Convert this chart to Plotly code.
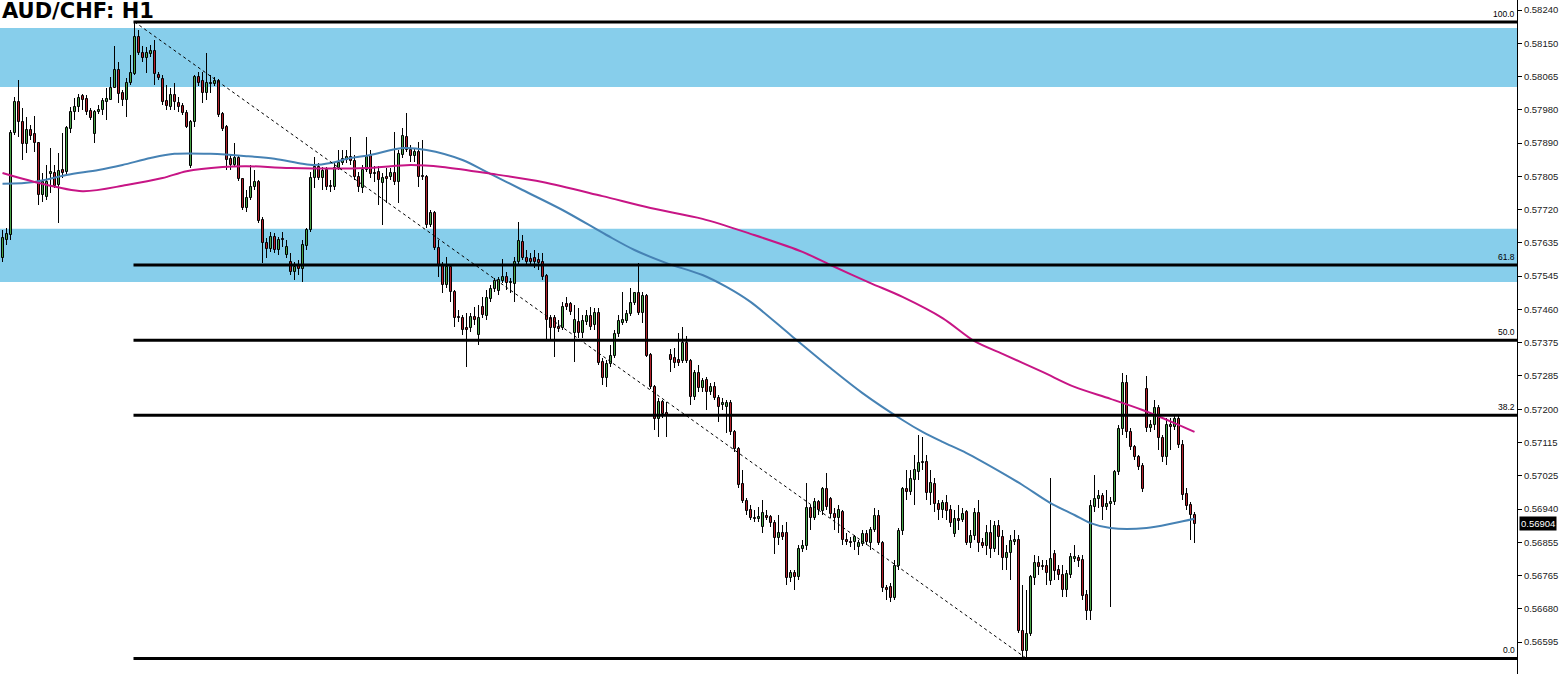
import numpy as np
import plotly.graph_objects as go

TITLE = "AUD/CHF: H1"

# ---- OHLC data (prices in points, 1 point = 0.00001) ----
open_pts = [
57595,57642,57655,57920,58001,57949,57892,57928,57918,57894,
57759,57754,57814,57816,57785,57824,57819,57931,57975,57988,
58016,58009,57977,57918,57975,57980,58001,58006,58037,58084,
58024,58006,58050,58074,58170,58128,58115,58126,58133,58071,
58061,58003,57988,58019,57998,57990,57972,57834,57949,58066,
58055,58024,58050,58048,58055,57970,57936,57853,57837,57855,
57801,57725,57751,57780,57793,57694,57634,57619,57650,57616,
57645,57603,57585,57559,57574,57567,57626,57668,57803,57832,
57803,57824,57782,57780,57829,57842,57850,57858,57847,57806,
57777,57824,57860,57816,57819,57790,57806,57806,57816,57793,
57863,57910,57876,57860,57871,57808,57806,57681,57712,57621,
57577,57525,57572,57507,57442,57439,57413,57413,57442,57395,
57468,57444,57489,57515,57509,57535,57546,57530,57528,57585,
57637,57595,57593,57595,57590,57585,57548,57439,57439,57416,
57413,57476,57476,57400,57429,57400,57429,57444,57421,57452,
57325,57283,57320,57340,57398,57426,57431,57450,57478,57504,
57452,57496,57343,57260,57177,57221,57192,57343,57335,57330,
57327,57374,57327,57234,57296,57257,57278,57247,57260,57231,
57213,57208,57218,57143,57099,57008,56963,56940,56919,56917,
56896,56924,56922,56906,56867,56880,56880,56763,56776,56766,
56839,56846,56945,56919,56961,56937,56995,56969,56930,56919,
56935,56862,56857,56857,56844,56852,56878,56854,56888,56924,
56854,56737,56740,56711,56794,56885,56995,56987,57018,57039,
57065,57065,56984,57008,56956,56940,56958,56940,56878,56917,
56914,56935,56854,56872,56932,56854,56846,56880,56839,56898,
56870,56815,56828,56857,56862,56625,56573,56618,56763,56802,
56794,56794,56755,56826,56784,56771,56732,56771,56813,56815,
56810,56719,56677,56948,56969,56976,56948,56956,56961,57039,
57151,57270,57143,57104,57078,57054,57255,57153,57161,57205,
57127,57078,57161,57156,57177,57109,56982,56953,56927]

high_pts = [
57668,57673,57928,58014,58058,57985,57962,57941,57964,57897,
57816,57837,57881,57837,57868,57920,57938,57988,58011,58022,
58022,58019,57985,57980,57993,58011,58037,58066,58146,58105,
58032,58063,58123,58209,58188,58146,58144,58149,58162,58079,
58071,58045,58037,58050,58014,57998,57980,57954,58071,58079,
58079,58128,58071,58066,58061,57975,57941,57863,57894,57863,
57803,57772,57837,57824,57798,57702,57647,57663,57660,57650,
57663,57642,57608,57585,57590,57642,57673,57819,57858,57842,
57832,57832,57798,57845,57876,57876,57876,57910,57863,57819,
57837,57910,57876,57834,57834,57816,57829,57829,57923,57876,
57933,57972,57889,57881,57897,57902,57811,57720,57717,57642,
57585,57598,57580,57512,57460,57447,57452,57452,57468,57473,
57494,57512,57525,57543,57546,57593,57559,57543,57598,57689,
57655,57616,57608,57616,57608,57608,57554,57447,57447,57434,
57481,57494,57481,57473,57465,57447,57460,57468,57465,57465,
57335,57330,57369,57408,57447,57507,57460,57517,57507,57582,
57507,57502,57348,57265,57231,57226,57221,57359,57361,57400,
57416,57392,57333,57304,57317,57283,57286,57270,57273,57239,
57231,57226,57226,57148,57104,57044,56971,56953,56940,56948,
56966,56940,56927,56914,56927,56901,56909,56784,56784,56849,
56862,57010,56953,56971,56966,57000,57036,56974,56945,56953,
56940,56880,56870,56875,56862,56888,56888,56896,56945,56940,
56859,56745,56750,56810,56893,57000,57044,57044,57083,57135,
57130,57083,57044,57023,56966,56966,56979,56953,56940,56953,
56945,56940,56888,56945,56966,56867,56901,56914,56911,56914,
56888,56849,56875,56888,56875,56745,56732,56771,56823,56820,
56810,56810,57023,56836,56797,56797,56784,56828,56849,56823,
56823,56732,56966,57031,56992,56984,56992,56974,57044,57161,
57296,57291,57153,57109,57083,57062,57288,57174,57226,57213,
57135,57179,57179,57187,57187,57122,56997,56961,56935]

low_pts = [
57585,57629,57642,57915,57910,57850,57868,57902,57871,57733,
57741,57746,57764,57777,57686,57803,57814,57920,57954,57975,
57980,57967,57954,57894,57970,57967,57954,58006,58037,57998,
57990,57962,58045,58071,58123,58105,58076,58118,58045,58058,
57993,57980,57980,57980,57975,57967,57933,57829,57936,58042,
57998,58006,58024,58042,57962,57925,57824,57824,57832,57795,
57720,57715,57746,57772,57686,57582,57595,57611,57608,57603,
57624,57595,57551,57538,57551,57533,57616,57663,57777,57798,
57772,57772,57767,57772,57824,57837,57842,57837,57798,57767,
57764,57819,57803,57793,57733,57681,57738,57798,57785,57738,
57855,57871,57845,57845,57780,57798,57673,57676,57616,57546,
57504,57517,57481,57416,57429,57395,57312,57403,57421,57369,
57439,57434,57481,57507,57499,57530,57512,57504,57481,57580,
57590,57577,57577,57569,57564,57538,57382,57382,57338,57403,
57408,57460,57447,57325,57387,57387,57421,57408,57408,57317,
57265,57260,57312,57335,57390,57421,57426,57444,57473,57447,
57426,57338,57255,57148,57130,57179,57130,57299,57309,57314,
57322,57322,57213,57226,57247,57247,57200,57239,57226,57169,
57200,57140,57135,57091,56997,56958,56927,56914,56909,56909,
56880,56914,56896,56826,56849,56862,56745,56753,56732,56758,
56831,56836,56888,56914,56927,56927,56940,56919,56888,56880,
56849,56849,56844,56836,56823,56846,56849,56836,56883,56849,
56727,56706,56701,56706,56784,56875,56966,56979,56953,57018,
57044,56966,56953,56935,56914,56919,56914,56896,56870,56888,
56909,56849,56841,56862,56831,56841,56823,56815,56831,56823,
56784,56784,56758,56849,56620,56555,56554,56612,56745,56771,
56784,56745,56745,56758,56758,56714,56714,56763,56805,56792,
56706,56654,56654,56935,56945,56914,56940,56688,56953,57031,
57135,57127,57096,57070,57044,56987,57143,57143,57148,57096,
57065,57057,57096,57148,57101,56966,56940,56862,56854]

close_pts = [
57647,57658,57920,58001,57949,57892,57928,57912,57894,57759,
57793,57793,57819,57782,57821,57816,57933,57975,57988,58011,
58006,57975,57959,57975,57980,58003,58009,58037,58084,58022,
58006,58050,58076,58170,58128,58115,58128,58133,58074,58063,
58001,57990,58019,58001,57988,57972,57936,57949,58066,58050,
58024,58050,58048,58055,57967,57931,57850,57837,57855,57801,
57725,57751,57780,57793,57691,57634,57619,57650,57616,57642,
57642,57624,57559,57572,57567,57629,57668,57803,57832,57803,
57821,57780,57780,57829,57842,57853,57858,57847,57806,57780,
57824,57858,57814,57814,57798,57803,57801,57816,57793,57866,
57912,57876,57860,57871,57806,57806,57681,57712,57621,57577,
57525,57572,57507,57439,57439,57408,57408,57442,57434,57439,
57447,57491,57515,57535,57538,57546,57530,57533,57585,57639,
57595,57585,57585,57585,57582,57546,57434,57413,57413,57411,
57468,57468,57455,57434,57400,57431,57444,57416,57452,57322,
57283,57320,57340,57398,57431,57434,57450,57478,57504,57452,
57496,57340,57260,57177,57221,57190,57184,57330,57322,57322,
57374,57327,57234,57296,57257,57275,57247,57260,57231,57208,
57218,57218,57143,57099,57005,56963,56937,56919,56917,56922,
56932,56919,56906,56867,56880,56870,56763,56776,56766,56839,
56846,56945,56919,56961,56940,56995,56948,56930,56919,56940,
56862,56857,56854,56870,56854,56878,56857,56888,56924,56854,
56737,56732,56711,56794,56885,56995,56987,57021,57044,57062,
57062,56984,57010,56956,56940,56958,56937,56906,56917,56911,
56930,56854,56872,56932,56854,56846,56880,56839,56898,56870,
56815,56828,56859,56862,56625,56573,56618,56766,56802,56792,
56792,56776,56813,56781,56771,56732,56774,56818,56818,56807,
56716,56677,56950,56969,56976,56948,56956,56961,57039,57151,
57270,57143,57104,57078,57052,56995,57153,57161,57205,57127,
57078,57161,57156,57177,57109,56979,56950,56927,56904]

# ---- moving averages, sampled (bar index, value in points) ----
ma_blue_idx = [0, 8, 16, 24, 30, 37, 43, 52, 61, 68, 75, 78, 82, 87, 92, 100, 106,
               115, 121, 130, 140, 151, 158, 166, 175, 181, 187, 197, 207, 215, 225,
               230, 235, 241, 250, 255, 262, 268, 272, 277, 286, 293, 298]
ma_blue_pts = [57788, 57793, 57811, 57824, 57837, 57855, 57866, 57866, 57860, 57853,
               57840, 57837, 57842, 57855, 57863, 57881, 57876, 57850, 57819, 57772,
               57720, 57655, 57616, 57582, 57551, 57520, 57481, 57395, 57309, 57244,
               57174, 57143, 57117, 57088, 57036, 57005, 56958, 56927, 56906, 56893,
               56893, 56906, 56917]
ma_mag_idx = [0, 8, 20, 31, 40, 46, 55, 61, 72, 91, 102, 110, 121, 135, 150, 162,
              175, 187, 200, 207, 217, 225, 235, 243, 250, 260, 268, 277, 285, 293, 298]
ma_mag_pts = [57816, 57793, 57769, 57785, 57803, 57821, 57832, 57834, 57829, 57829,
              57837, 57832, 57816, 57793, 57756, 57725, 57697, 57658, 57611, 57577,
              57530, 57494, 57439, 57379, 57346, 57299, 57260, 57229, 57200, 57166,
              57143]

# ---- zones (price ranges) ----
zone_top = [0.58193, 0.57671]
zone_bottom = [0.58040, 0.57533]

# ---- fibonacci levels ----
fib_levels = [100.0, 61.8, 50.0, 38.2, 0.0]
fib_labels = ["100.0", "61.8", "50.0", "38.2", "0.0"]

# ---- axis ticks ----
ytick_labels = ["0.58240", "0.58150", "0.58065", "0.57980", "0.57890", "0.57805",
                "0.57720", "0.57635", "0.57545", "0.57460", "0.57375", "0.57285",
                "0.57200", "0.57115", "0.57025", "0.56940", "0.56855", "0.56765",
                "0.56680", "0.56595", "0.56510"]

SCALE = 1e5
o = np.array(open_pts) / SCALE
h = np.array(high_pts) / SCALE
l = np.array(low_pts) / SCALE
c = np.array(close_pts) / SCALE
n = len(c)
idx = np.arange(n)

W, H = 1561, 674
PLOT_RIGHT = 1517
BAR_PX = 4.0
x_lo = -2.5 / BAR_PX
x_hi = x_lo + PLOT_RIGHT / BAR_PX
y_lo, y_hi = 0.565136, 0.58266

GREEN = "#47A447"
RED = "#B2202A"

fig = go.Figure()

# wicks (bars, so they sit under the bodies)
fig.add_trace(go.Bar(x=idx, y=h - l, base=l, width=1.0 / BAR_PX,
                     marker=dict(color="black", line=dict(width=0)),
                     hoverinfo="skip", showlegend=False))

# bodies
inc = c >= o
bottom = np.minimum(o, c)
height = np.maximum(np.abs(c - o), 0.000012)
for mask, col in ((inc, GREEN), (~inc, RED)):
    fig.add_trace(go.Bar(x=idx[mask], y=height[mask], base=bottom[mask], width=2.0 / BAR_PX,
                         marker=dict(color=col, line=dict(color="black", width=1)),
                         hoverinfo="skip", showlegend=False))

# moving averages
fig.add_trace(go.Scatter(x=ma_blue_idx, y=np.array(ma_blue_pts) / SCALE, mode="lines",
                         line=dict(color="#4682B4", width=2, shape="spline", smoothing=0.9),
                         hoverinfo="skip", showlegend=False))
fig.add_trace(go.Scatter(x=ma_mag_idx, y=np.array(ma_mag_pts) / SCALE, mode="lines",
                         line=dict(color="#C71585", width=2, shape="spline", smoothing=0.9),
                         hoverinfo="skip", showlegend=False))

shapes = []
for zt, zb in zip(zone_top, zone_bottom):
    shapes.append(dict(type="rect", xref="paper", yref="y", x0=0, x1=1, y0=zb, y1=zt,
                       fillcolor="#87CEEB", line=dict(width=0), layer="below"))

i_hi = int(np.argmax(h))
i_lo = int(np.argmin(l))
fib_hi, fib_lo = h[i_hi], l[i_lo]
annotations = []
for lev, lab in zip(fib_levels, fib_labels):
    price = fib_lo + (fib_hi - fib_lo) * lev / 100.0
    shapes.append(dict(type="line", xref="x", yref="y", x0=i_hi - 0.25, x1=x_hi,
                       y0=price, y1=price, line=dict(color="black", width=3)))
    annotations.append(dict(x=1, xref="paper", y=price, yref="y", text=lab,
                            xanchor="right", yanchor="bottom", yshift=1, showarrow=False,
                            font=dict(family="Liberation Sans", size=8.5, color="black")))

shapes.append(dict(type="line", xref="x", yref="y", x0=i_hi, y0=fib_hi, x1=i_lo, y1=fib_lo,
                   line=dict(color="black", width=1, dash="dot")))

annotations.append(dict(x=0, xref="paper", y=1, yref="paper", text="<b>" + TITLE + "</b>",
                        xanchor="left", yanchor="top", showarrow=False, yshift=3,
                        font=dict(family="DejaVu Sans", size=21, color="black")))
annotations.append(dict(x=1, xref="paper", y=c[-1], yref="y", text="%.5f" % c[-1],
                        xanchor="left", yanchor="middle", xshift=2, showarrow=False,
                        bgcolor="black", borderpad=1,
                        font=dict(family="Liberation Sans", size=9.5, color="white")))

fig.update_layout(
    width=W, height=H,
    margin=dict(l=0, r=W - PLOT_RIGHT, t=0, b=0, autoexpand=False),
    paper_bgcolor="white", plot_bgcolor="white",
    barmode="overlay", bargap=0, bargroupgap=0,
    shapes=shapes, annotations=annotations,
    showlegend=False, hovermode=False,
    xaxis=dict(range=[x_lo, x_hi], visible=False, showgrid=False, zeroline=False,
               rangeslider=dict(visible=False)),
    yaxis=dict(range=[y_lo, y_hi], side="right", showgrid=False, zeroline=False,
               showline=True, linecolor="black", linewidth=1,
               ticks="outside", ticklen=4, tickcolor="black",
               tickvals=np.linspace(0.58240, 0.56510, 21), ticktext=ytick_labels,
               tickfont=dict(family="Liberation Sans", size=9.5, color="#222222")),
)

fig.write_html("out.html", config={"displayModeBar": False},
               post_script="document.body.style.margin='0px';document.body.style.overflow='hidden';")
